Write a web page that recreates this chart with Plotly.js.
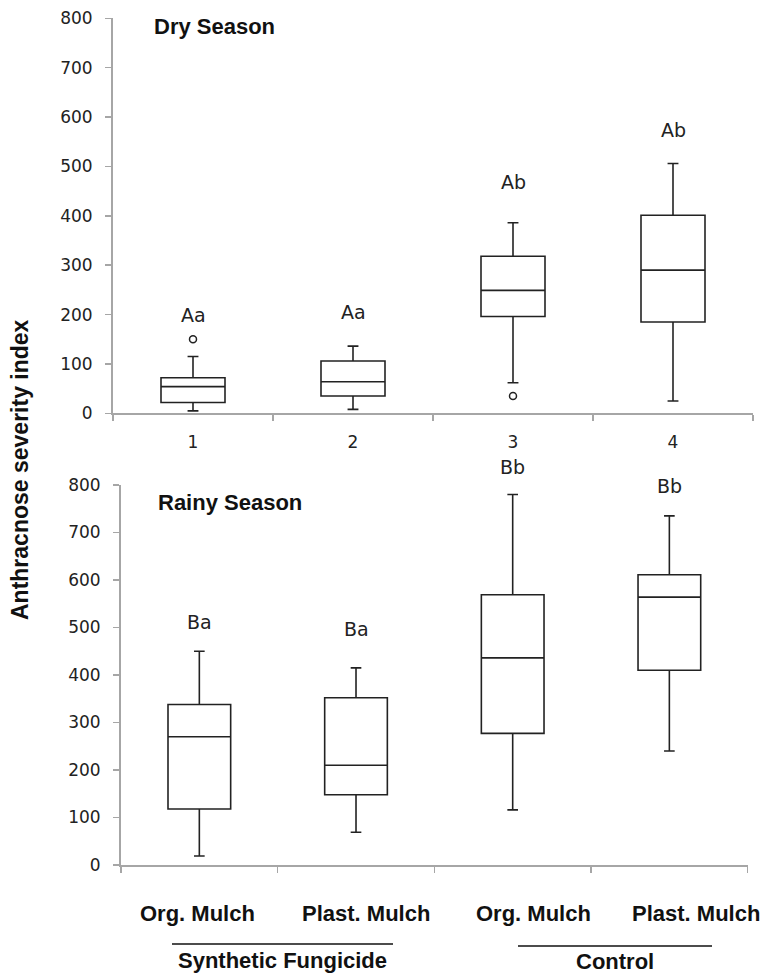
<!DOCTYPE html>
<html>
<head>
<meta charset="utf-8">
<script src="https://cdn.plot.ly/plotly-3.0.1.min.js"></script>
<style>html,body{margin:0;padding:0;background:#fff;}#chart{width:772px;height:976px;}</style>
</head>
<body>
<div id="chart"></div>
<script>
// ---- Dry season data ----
const dryCats = ['1', '2', '3', '4'];
const dryLowerFence = [5, 8, 62, 25];
const dryQ1 = [22, 35, 196, 185];
const dryMedian = [54, 64, 249, 290];
const dryQ3 = [72, 106, 318, 401];
const dryUpperFence = [115, 136, 386, 506];
const dryOutlierX = ['1', '3'];
const dryOutlierY = [150, 35];
const dryLetters = ['Aa', 'Aa', 'Ab', 'Ab'];
const dryLetterY = [199, 206, 469, 573];

// ---- Rainy season data ----
const rainyCats = ['SF Org. Mulch', 'SF Plast. Mulch', 'Control Org. Mulch', 'Control Plast. Mulch'];
const rainyLowerFence = [19, 69, 116, 240];
const rainyQ1 = [118, 148, 277, 410];
const rainyMedian = [270, 210, 436, 564];
const rainyQ3 = [338, 352, 569, 611];
const rainyUpperFence = [450, 415, 780, 735];
const rainyLetters = ['Ba', 'Ba', 'Bb', 'Bb'];
const rainyLetterY = [512, 496, 838, 798];

const treatmentLabels = ['Org. Mulch', 'Plast. Mulch', 'Org. Mulch', 'Plast. Mulch'];
const groupLabels = ['Synthetic Fungicide', 'Control'];
const yTicks = [0, 100, 200, 300, 400, 500, 600, 700, 800];
const yMax = 800;
const yTitle = 'Anthracnose severity index';
const panelTitles = ['Dry Season', 'Rainy Season'];

const W = 772, H = 976;
const px = v => v / W;
const py = v => (H - v) / H;

const tickFont = {family: 'DejaVu Sans', size: 17, color: '#222'};
const letterFont = {family: 'DejaVu Sans', size: 19, color: '#222'};
const boldFont = {family: 'Liberation Sans', size: 22, color: '#111'};

const boxStyle = {
  type: 'box', boxpoints: false, fillcolor: '#ffffff',
  line: {color: '#222', width: 1.6}, whiskerwidth: 0.17, width: 0.4,
  hoverinfo: 'skip', showlegend: false
};

const traces = [
  Object.assign({}, boxStyle, {
    x: dryCats, q1: dryQ1, median: dryMedian, q3: dryQ3,
    lowerfence: dryLowerFence, upperfence: dryUpperFence,
    xaxis: 'x', yaxis: 'y'
  }),
  {
    type: 'scatter', mode: 'markers', x: dryOutlierX, y: dryOutlierY,
    marker: {symbol: 'circle-open', size: 7, color: '#222', line: {width: 1.5}},
    xaxis: 'x', yaxis: 'y', hoverinfo: 'skip', showlegend: false
  },
  Object.assign({}, boxStyle, {
    x: rainyCats, q1: rainyQ1, median: rainyMedian, q3: rainyQ3,
    lowerfence: rainyLowerFence, upperfence: rainyUpperFence,
    xaxis: 'x2', yaxis: 'y2'
  })
];

const axisCommon = {
  showgrid: false, zeroline: false, showline: true,
  linecolor: '#a6a6a6', linewidth: 2, ticks: 'outside',
  tickcolor: '#a6a6a6', tickwidth: 1.5, ticklen: 6, tickfont: tickFont
};

const annotations = [];
dryCats.forEach((c, i) => annotations.push({
  xref: 'x', yref: 'y domain', x: i, y: dryLetterY[i] / yMax, text: dryLetters[i],
  showarrow: false, font: letterFont, xanchor: 'center', yanchor: 'middle'
}));
rainyCats.forEach((c, i) => annotations.push({
  xref: 'x2', yref: 'y2 domain', x: i, y: rainyLetterY[i] / yMax, text: rainyLetters[i],
  showarrow: false, font: letterFont, xanchor: 'center', yanchor: 'middle'
}));
annotations.push({xref: 'paper', yref: 'paper', x: px(152), y: py(27), text: '<b>' + panelTitles[0] + '</b>',
  showarrow: false, font: boldFont, xanchor: 'left', yanchor: 'middle'});
annotations.push({xref: 'paper', yref: 'paper', x: px(156), y: py(502), text: '<b>' + panelTitles[1] + '</b>',
  showarrow: false, font: boldFont, xanchor: 'left', yanchor: 'middle'});
annotations.push({xref: 'paper', yref: 'paper', x: px(20), y: py(470), text: '<b>' + yTitle + '</b>',
  showarrow: false, font: Object.assign({}, boldFont, {size: 23}), textangle: -90, xanchor: 'center', yanchor: 'middle'});
const labelCenters = [197, 366, 533, 696];
treatmentLabels.forEach((t, i) => annotations.push({
  xref: 'paper', yref: 'paper', x: px(labelCenters[i]), y: py(913), text: '<b>' + t + '</b>',
  showarrow: false, font: boldFont, xanchor: 'center', yanchor: 'middle'
}));
annotations.push({xref: 'paper', yref: 'paper', x: px(282), y: py(960), text: '<b>' + groupLabels[0] + '</b>',
  showarrow: false, font: boldFont, xanchor: 'center', yanchor: 'middle', borderpad: 0});
annotations.push({xref: 'paper', yref: 'paper', x: px(615), y: py(961), text: '<b>' + groupLabels[1] + '</b>',
  showarrow: false, font: boldFont, xanchor: 'center', yanchor: 'middle', borderpad: 0});

const shapes = [
  {type: 'line', xref: 'paper', yref: 'paper', x0: px(172), x1: px(393), y0: py(944), y1: py(944), line: {color: '#111', width: 1.6}},
  {type: 'line', xref: 'paper', yref: 'paper', x0: px(518), x1: px(712), y0: py(946), y1: py(946), line: {color: '#111', width: 1.6}}
];

const layout = {
  width: W, height: H, margin: {l: 0, r: 0, t: 0, b: 0},
  paper_bgcolor: '#fff', plot_bgcolor: '#fff', showlegend: false,
  xaxis: Object.assign({}, axisCommon, {
    domain: [px(113), px(753)], anchor: 'y', type: 'category',
    categoryorder: 'array', categoryarray: dryCats, tickson: 'boundaries',
    range: [-0.5, 3.5], ticklabelstandoff: 12
  }),
  yaxis: Object.assign({}, axisCommon, {
    domain: [py(413.3), py(18.3)], anchor: 'x', range: [0, yMax],
    tickvals: yTicks, ticklabelstandoff: 9
  }),
  xaxis2: Object.assign({}, axisCommon, {
    domain: [px(121), px(747.7)], anchor: 'y2', type: 'category',
    categoryarray: rainyCats, categoryorder: 'array', tickson: 'boundaries',
    range: [-0.5, 3.5], showticklabels: false
  }),
  yaxis2: Object.assign({}, axisCommon, {
    domain: [py(865), py(485)], anchor: 'x2', range: [0, yMax],
    tickvals: yTicks, ticklabelstandoff: 9
  }),
  annotations: annotations,
  shapes: shapes
};

Plotly.newPlot('chart', traces, layout, {staticPlot: true});
</script>
</body>
</html>
